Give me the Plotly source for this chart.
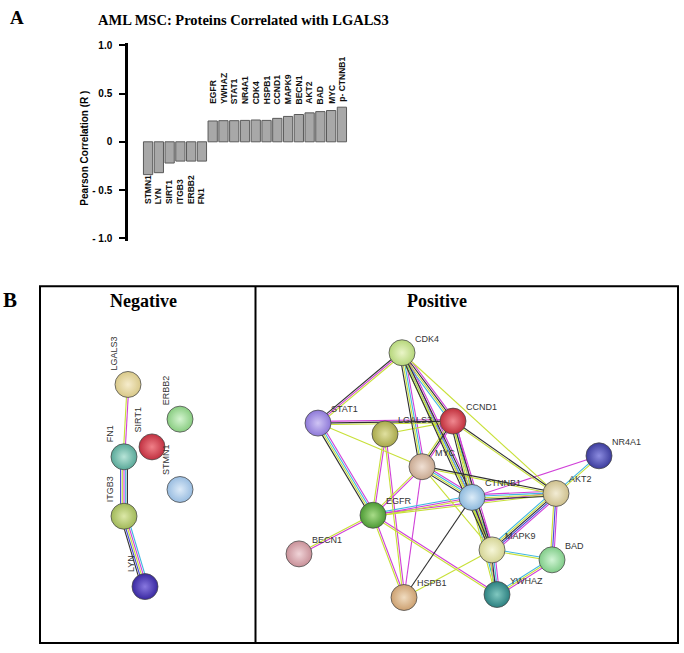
import plotly.graph_objects as go
import math

# ---------------- Panel A data ----------------
proteins = ["STMN1", "LYN", "SIRT1", "ITGB3", "ERBB2", "FN1",
            "EGFR", "YWHAZ", "STAT1", "NR4A1", "CDK4", "HSPB1", "CCND1",
            "MAPK9", "BECN1", "AKT2", "BAD", "MYC", "p- CTNNB1"]
pearson_r = [-0.34, -0.32, -0.22, -0.20, -0.20, -0.20,
             0.216, 0.219, 0.219, 0.222, 0.226, 0.222, 0.243,
             0.263, 0.283, 0.300, 0.313, 0.324, 0.359]
y_tickvals = [-1.0, -0.5, 0.0, 0.5, 1.0]
y_ticktext = ["- 1.0", "- 0.5", "0", "0.5", "1.0"]

# ---------------- Panel B data (network layouts) ----------------
neg_names = ["LGALS3", "ERBB2", "SIRT1", "FN1", "STMN1", "ITGB3", "LYN"]
neg_x = [128, 180, 152, 124, 180, 124, 145]
neg_y = [385, 420, 448, 458, 491, 518, 589]
neg_color = ["#d8c888", "#88cc80", "#c03040", "#58a898", "#98bce0", "#a0b858", "#3828a0"]
neg_light = ["#f6eccc", "#d4f4d0", "#f08088", "#b8e4d8", "#dceaf8", "#dce8a8", "#8878e0"]
neg_edges = [("LGALS3", "FN1", "my"), ("FN1", "ITGB3", "kcmyb"), ("ITGB3", "LYN", "cmybk")]

pos_names = ["CDK4", "STAT1", "LGALS3", "CCND1", "MYC", "NR4A1", "CTNNB1", "AKT2",
             "EGFR", "BECN1", "MAPK9", "BAD", "HSPB1", "YWHAZ"]
pos_x = [402, 318, 385, 453, 422, 599, 472, 556, 373, 299, 492, 552, 404, 497]
pos_y = [353, 424, 435, 422, 468, 457, 499, 495, 517, 556, 552, 562, 600, 597]
pos_color = ["#b5d67a", "#8d78d8", "#a8a84a", "#c0303c", "#c8a890", "#3c3c9c", "#8cb8dc",
             "#cdbf8c", "#4c9a34", "#c89098", "#d4d494", "#80cc88", "#cca070", "#2c8080"]
pos_light = ["#eaf5c8", "#cfc4f4", "#e0e0a0", "#f08890", "#f0e0d4", "#8c8ce0", "#dcecf8",
             "#f2ecd4", "#a8dc88", "#f0d4d8", "#f6f6d8", "#d0f4d4", "#f0dcc0", "#80c8c0"]
pos_edges = [
    ("CDK4", "STAT1", "ymk"), ("CDK4", "CCND1", "mkyc"), ("CDK4", "MYC", "mcyk"),
    ("CDK4", "CTNNB1", "mkcy"), ("CDK4", "MAPK9", "myk"), ("CDK4", "AKT2", "y"),
    ("STAT1", "CCND1", "mky"), ("STAT1", "MYC", "y"), ("STAT1", "EGFR", "mcyk"),
    ("LGALS3", "CCND1", "y"), ("LGALS3", "EGFR", "my"), ("LGALS3", "HSPB1", "my"),
    ("CCND1", "MYC", "mky"), ("CCND1", "CTNNB1", "mcyk"), ("CCND1", "AKT2", "ky"),
    ("CCND1", "MAPK9", "mky"), ("MYC", "EGFR", "my"), ("MYC", "CTNNB1", "mcyk"),
    ("MYC", "AKT2", "ky"), ("MYC", "MAPK9", "y"), ("MYC", "HSPB1", "m"),
    ("EGFR", "CTNNB1", "cmy"), ("EGFR", "AKT2", "my"), ("EGFR", "BECN1", "my"),
    ("EGFR", "HSPB1", "my"), ("EGFR", "YWHAZ", "my"), ("CTNNB1", "AKT2", "mcyk"),
    ("CTNNB1", "NR4A1", "m"), ("CTNNB1", "MAPK9", "mcky"), ("CTNNB1", "YWHAZ", "mcy"),
    ("CTNNB1", "HSPB1", "k"), ("AKT2", "NR4A1", "cy"), ("AKT2", "MAPK9", "mbkyc"),
    ("AKT2", "BAD", "mby"), ("MAPK9", "BAD", "cy"), ("MAPK9", "HSPB1", "y"),
    ("MAPK9", "YWHAZ", "mcky"), ("BAD", "YWHAZ", "myc"),
]

EVIDENCE_COLORS = {"m": "#d040d8", "c": "#40b8e0", "y": "#c8e038",
                   "k": "#303030", "b": "#4848d8"}

W, H = 684, 653
SANS = "Arial, Liberation Sans, sans-serif"
SERIF = "Times New Roman, Liberation Serif, serif"

fig = go.Figure()

# ---------------- Panel A: bar chart ----------------
fig.add_trace(go.Bar(
    x=list(range(len(proteins))), y=pearson_r,
    marker=dict(color="#a8a8a8", line=dict(color="#5a5a5a", width=1)),
    xaxis="x", yaxis="y", showlegend=False, hoverinfo="skip"))

annotations = []
for i, (name, v) in enumerate(zip(proteins, pearson_r)):
    ypos = max(0.37, v + 0.04) if v >= 0 else -0.67
    annotations.append(dict(x=i, y=ypos, xref="x", yref="y",
                            text="<b>%s</b>" % name, textangle=-90, showarrow=False,
                            xanchor="center", yanchor="bottom",
                            font=dict(family=SANS, size=8.5, color="#111")))

# ---------------- Panel B: networks ----------------
def add_network(names, xs, ys, colors, lights, edges, rotated):
    idx = {n: k for k, n in enumerate(names)}
    segs = {c: ([], []) for c in EVIDENCE_COLORS}
    spacing = 1.7
    for a, b, ev in edges:
        x0, y0 = xs[idx[a]], ys[idx[a]]
        x1, y1 = xs[idx[b]], ys[idx[b]]
        L = math.hypot(x1 - x0, y1 - y0)
        px, py = -(y1 - y0) / L, (x1 - x0) / L
        k = len(ev)
        for j, code in enumerate(ev):
            off = (j - (k - 1) / 2) * spacing
            sx, sy = segs[code]
            sx += [x0 + px * off, x1 + px * off, None]
            sy += [y0 + py * off, y1 + py * off, None]
    for code, (sx, sy) in segs.items():
        if sx:
            fig.add_trace(go.Scatter(x=sx, y=sy, mode="lines", xaxis="x2", yaxis="y2",
                                     line=dict(color=EVIDENCE_COLORS[code], width=1.1),
                                     showlegend=False, hoverinfo="skip"))
    for n, x, y, c, l in zip(names, xs, ys, colors, lights):
        fig.add_trace(go.Scatter(x=[x], y=[y], mode="markers", xaxis="x2", yaxis="y2",
                                 marker=dict(size=26, color=c,
                                             gradient=dict(type="radial", color=l),
                                             line=dict(color="rgba(70,70,70,0.75)", width=1)),
                                 showlegend=False, hoverinfo="skip"))
        if rotated:
            annotations.append(dict(x=x, y=y, xref="x2", yref="y2", text=n, textangle=-90,
                                    showarrow=False, xanchor="center", yanchor="bottom",
                                    xshift=-14, yshift=12,
                                    font=dict(family=SANS, size=9, color="#333")))
        else:
            annotations.append(dict(x=x, y=y, xref="x2", yref="y2", text=n,
                                    showarrow=False, xanchor="left", yanchor="middle",
                                    xshift=11, yshift=14,
                                    font=dict(family=SANS, size=9, color="#333")))

add_network(neg_names, neg_x, neg_y, neg_color, neg_light, neg_edges, True)
add_network(pos_names, pos_x, pos_y, pos_color, pos_light, pos_edges, False)

# ---------------- Text labels ----------------
annotations += [
    dict(x=17, y=15, xref="x2", yref="y2", text="<b>A</b>", showarrow=False,
         font=dict(family=SERIF, size=19, color="black")),
    dict(x=243, y=17, xref="x2", yref="y2", text="<b>AML MSC: Proteins Correlated with LGALS3</b>",
         showarrow=False, font=dict(family=SERIF, size=14.5, color="black")),
    dict(x=85, y=147, xref="x2", yref="y2", text="<b>Pearson Correlation (R )</b>", textangle=-90,
         showarrow=False, font=dict(family=SANS, size=10, color="black")),
    dict(x=10, y=300, xref="x2", yref="y2", text="<b>B</b>", showarrow=False,
         font=dict(family=SERIF, size=21, color="black")),
    dict(x=143, y=301, xref="x2", yref="y2", text="<b>Negative</b>", showarrow=False,
         font=dict(family=SERIF, size=18, color="black")),
    dict(x=437, y=301, xref="x2", yref="y2", text="<b>Positive</b>", showarrow=False,
         font=dict(family=SERIF, size=18, color="black")),
]

shapes = [
    dict(type="rect", xref="x2", yref="y2", x0=40, y0=286, x1=678, y1=646,
         line=dict(color="black", width=2), layer="below"),
    dict(type="line", xref="x2", yref="y2", x0=255.5, y0=286, x1=255.5, y1=646,
         line=dict(color="black", width=2), layer="below"),
]

fig.update_layout(
    width=W, height=H, margin=dict(l=0, r=0, t=0, b=0),
    paper_bgcolor="white", plot_bgcolor="rgba(0,0,0,0)",
    bargap=0.14, showlegend=False,
    xaxis=dict(domain=[128 / W, 360 / W], range=[-1.865, 19.68], visible=False),
    yaxis=dict(domain=[1 - 240 / H, 1 - 40 / H], range=[-1.026, 1.028],
               showline=True, linecolor="black", linewidth=2.5,
               ticks="outside", ticklen=6, tickwidth=2, tickcolor="black",
               tickvals=y_tickvals, ticktext=["<b>%s</b>" % t for t in y_ticktext],
               tickfont=dict(family=SANS, size=10, color="black"),
               ticklabelstandoff=5, showgrid=False, zeroline=False),
    xaxis2=dict(domain=[0, 1], range=[0, W], visible=False, anchor="y2"),
    yaxis2=dict(domain=[0, 1], range=[H, 0], visible=False, anchor="x2"),
    annotations=annotations, shapes=shapes,
)

fig.write_html("out.html", config={"displayModeBar": False},
               post_script="document.body.style.margin='0';document.body.style.overflow='hidden';")
